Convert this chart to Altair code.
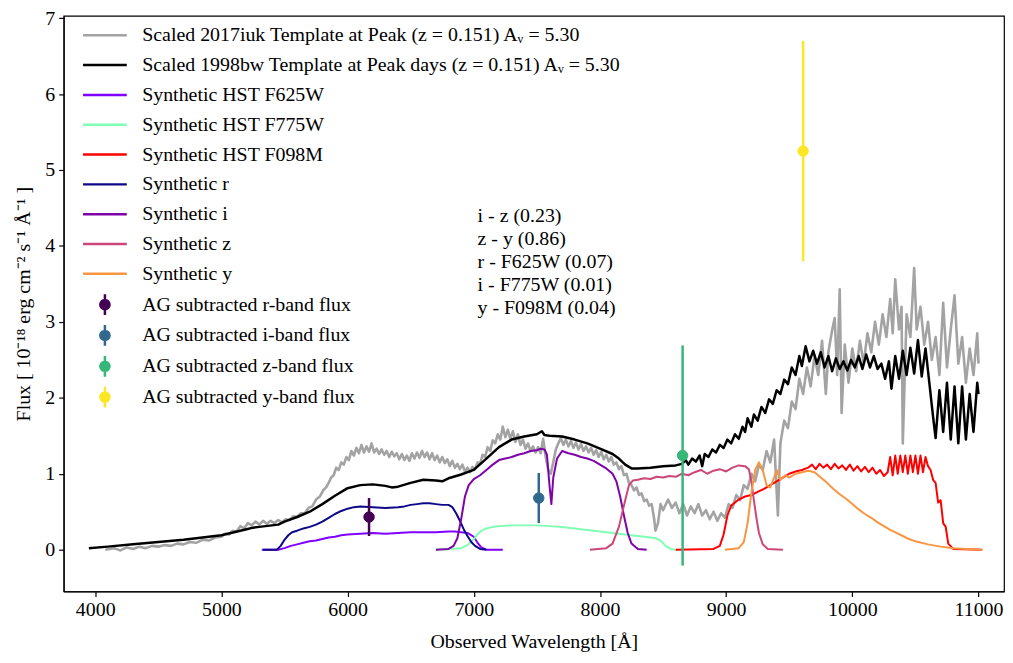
import altair as alt
import pandas as pd

# ---------------- data ----------------
line_names = [
    "Scaled 2017iuk Template at Peak (z = 0.151) Aᵥ = 5.30",
    "Scaled 1998bw Template at Peak days (z = 0.151) Aᵥ = 5.30",
    "Synthetic HST F625W",
    "Synthetic HST F775W",
    "Synthetic HST F098M",
    "Synthetic r",
    "Synthetic i",
    "Synthetic z",
    "Synthetic y",
]
line_colors = ["#a3a3a3", "#000000", "#8000ff", "#80ffb4", "#ff0000",
               "#0d0887", "#7e03a8", "#cc4778", "#f89540"]

# 2017iuk template (grey)
iuk_wl = [4080, 4150, 4200, 4250, 4300, 4350, 4400, 4450, 4500, 4550, 4600, 4650, 4700, 4750,
          4800, 4850, 4900, 4950,
          5000, 5030, 5060, 5090, 5120, 5150, 5180, 5210, 5240, 5270, 5300, 5330, 5360, 5390,
          5420, 5450, 5480, 5510, 5540, 5570, 5600, 5630, 5660, 5690, 5720, 5750, 5780, 5810,
          5830,
          5850, 5870, 5890, 5910, 5930, 5950, 5970, 5990, 6010, 6030, 6050, 6070, 6090, 6110,
          6130, 6150, 6170, 6190, 6210, 6230, 6250, 6270, 6290, 6310, 6330, 6350, 6370, 6390,
          6410, 6430, 6450, 6470, 6490, 6510, 6530, 6550, 6570, 6590, 6610, 6630, 6650, 6670,
          6690, 6710, 6730, 6750, 6770, 6790, 6810, 6830, 6850, 6870, 6890, 6910, 6930, 6950,
          6970, 6990, 7010, 7030, 7050, 7070, 7090, 7110, 7130, 7150, 7170, 7190, 7210, 7230,
          7250, 7270, 7290, 7310, 7330, 7350, 7370, 7390, 7410, 7430, 7450, 7470, 7490, 7510,
          7530, 7550, 7570, 7590, 7610, 7630, 7650, 7670, 7690, 7710, 7730, 7750, 7770, 7790,
          7810, 7830, 7850, 7870, 7890, 7910, 7930, 7950, 7970, 7990, 8010, 8030, 8050, 8070,
          8090, 8110, 8130, 8150, 8170, 8190, 8210, 8230, 8250, 8270, 8290, 8310, 8330, 8350,
          8370, 8390, 8410, 8430,
          8440, 8460, 8480, 8500, 8540,
          8570, 8600, 8630, 8660, 8690, 8720, 8750, 8780, 8810, 8840, 8870, 8900, 8930, 8960,
          8990, 9020, 9050, 9080, 9110, 9140, 9170, 9200, 9230, 9260, 9290, 9320, 9350, 9380,
          9410, 9430, 9460, 9490, 9520, 9550, 9580, 9610, 9640, 9670, 9700, 9730, 9760, 9790,
          9810, 9840, 9860, 9880, 9900, 9915, 9940, 9970, 10000, 10030, 10060, 10090, 10120,
          10150, 10180, 10210, 10240, 10270, 10300, 10320, 10340, 10370, 10390, 10400, 10430,
          10460, 10490, 10510, 10540, 10570, 10600, 10630, 10660, 10690, 10720, 10750, 10780,
          10810, 10840, 10870, 10900, 10930, 10960, 10990, 11000]
iuk_fx = [0.00, 0.02, -0.01, 0.03, 0.01, 0.04, 0.02, 0.05, 0.04, 0.06, 0.05, 0.08, 0.07, 0.10,
          0.09, 0.13, 0.12, 0.16,
          0.17, 0.21, 0.20, 0.25, 0.24, 0.31, 0.28, 0.35, 0.32, 0.37, 0.33, 0.38, 0.34, 0.38,
          0.35, 0.39, 0.36, 0.40, 0.39, 0.44, 0.43, 0.48, 0.48, 0.55, 0.57, 0.66, 0.70, 0.79,
          0.82,
          0.88, 0.95, 0.98, 1.08, 1.05, 1.15, 1.12, 1.22, 1.18, 1.30, 1.24, 1.34, 1.27, 1.38,
          1.28, 1.36, 1.29, 1.40, 1.28, 1.33, 1.26, 1.32, 1.25, 1.30, 1.22, 1.29, 1.23, 1.27,
          1.19, 1.26, 1.18, 1.24, 1.17, 1.27, 1.20, 1.28, 1.21, 1.30, 1.22, 1.28, 1.19, 1.27,
          1.18, 1.24, 1.15, 1.22, 1.14, 1.19, 1.10, 1.17, 1.08, 1.13, 1.06, 1.12, 1.03, 1.08,
          1.02, 1.09, 1.06, 1.15, 1.13, 1.25, 1.22, 1.35, 1.30, 1.44, 1.40, 1.52, 1.45, 1.62,
          1.48, 1.58, 1.46, 1.56, 1.42, 1.52, 1.38, 1.45, 1.33, 1.40, 1.30, 1.36, 1.28, 1.35,
          1.27, 1.46, 1.22, 1.05, 1.00, 1.15, 1.32, 1.40, 1.47, 1.38, 1.45, 1.36, 1.43, 1.34,
          1.41, 1.32, 1.39, 1.30, 1.36, 1.28, 1.34, 1.25, 1.31, 1.22, 1.29, 1.19, 1.25, 1.16,
          1.22, 1.12, 1.15, 1.06, 1.10, 0.98, 1.00, 0.88, 0.85, 0.78, 0.82, 0.72, 0.74, 0.64,
          0.66, 0.58, 0.60, 0.40,
          0.25, 0.35, 0.60, 0.52, 0.66,
          0.55, 0.62, 0.48, 0.60, 0.45, 0.57, 0.48, 0.60, 0.45, 0.52, 0.40, 0.50, 0.38, 0.48,
          0.42, 0.60, 0.55, 0.72, 0.65, 0.85, 0.80, 1.00, 0.90, 1.12, 1.05, 1.30, 1.15, 1.45,
          0.45, 1.40, 1.70, 1.60, 1.95, 1.85, 2.25, 2.05, 2.40, 2.15, 2.55, 2.30, 2.75, 2.05,
          2.60, 2.89, 3.05, 2.30, 3.43, 1.80, 2.70, 2.20, 2.65, 2.35, 2.75, 2.45, 2.85,
          2.60, 3.00, 2.70, 3.10, 2.80, 3.30, 2.85, 3.56, 2.90, 3.20, 1.40, 3.10,
          2.80, 3.71, 2.90, 3.20, 2.70, 3.00, 2.50, 2.80, 2.30, 3.25, 2.40, 2.90,
          3.35, 2.45, 2.80, 2.20, 2.65, 2.30, 2.85, 2.45]

# 1998bw template (black)
bw_wl = [3950, 4100, 4300, 4500, 4700, 4900, 5000, 5100, 5200, 5250, 5300, 5400, 5450, 5500,
         5600, 5700, 5800, 5900, 6000, 6100, 6200, 6300, 6350, 6400, 6500, 6600, 6700, 6750,
         6800, 6900, 7000, 7100, 7200, 7300, 7400, 7500, 7540, 7560, 7600, 7700, 7800, 7900,
         8000, 8100, 8150, 8200, 8250, 8300, 8400, 8500, 8600, 8650, 8680, 8700, 8730, 8760,
         8790, 8810, 8830, 8860, 8890, 8920, 8950, 8980, 9010, 9040, 9070, 9100, 9130, 9150,
         9170, 9200, 9220, 9250, 9280, 9310, 9340, 9370, 9400, 9430, 9460, 9490, 9520, 9550,
         9580, 9600, 9630, 9660, 9690, 9720, 9750, 9780, 9810, 9840, 9870, 9900, 9930, 9960,
         9990, 10020, 10050, 10080, 10110, 10140, 10170, 10200, 10230, 10260, 10290, 10310,
         10340, 10370, 10400, 10430, 10460, 10490, 10520, 10550, 10580, 10610, 10640, 10660,
         10690, 10720, 10750, 10780, 10810, 10840, 10870, 10900, 10930, 10960, 10990, 11000]
bw_fx = [0.02, 0.04, 0.07, 0.10, 0.13, 0.17, 0.19, 0.23, 0.27, 0.29, 0.30, 0.32, 0.33, 0.37,
         0.43, 0.50, 0.60, 0.71, 0.81, 0.85, 0.86, 0.84, 0.82, 0.83, 0.88, 0.92, 0.91, 0.90,
         0.94, 0.99, 1.05, 1.20, 1.35, 1.45, 1.49, 1.52, 1.56, 1.51, 1.50, 1.49, 1.45, 1.40,
         1.33, 1.26, 1.20, 1.12, 1.07, 1.07, 1.08, 1.10, 1.11, 1.13, 1.18, 1.12, 1.20, 1.16,
         1.24, 1.10, 1.26, 1.22, 1.32, 1.28, 1.38, 1.34, 1.45, 1.40, 1.52, 1.46, 1.62, 1.55,
         1.73, 1.62, 1.78, 1.70, 1.88, 1.80, 1.98, 1.92, 2.10, 2.05, 2.24, 2.18, 2.40, 2.30,
         2.55, 2.42, 2.68, 2.48, 2.62, 2.45, 2.60, 2.40, 2.55, 2.35, 2.52, 2.38, 2.48, 2.36,
         2.50, 2.40, 2.55, 2.38, 2.57, 2.40, 2.55, 2.38, 2.45, 2.25, 2.48, 2.12,
         2.55, 2.25, 2.62, 2.30, 2.66, 2.32, 2.76, 2.28, 2.65, 2.20, 1.75, 1.47,
         2.10, 1.55, 2.20, 1.45, 2.15, 1.40, 2.15, 1.45, 2.05, 1.55, 2.20, 2.05]

f625_wl = [5320, 5450, 5500, 5550, 5600, 5650, 5700, 5750, 5800, 5850, 5900, 5950, 6000, 6100,
           6200, 6300, 6400, 6500, 6600, 6700, 6800, 6850, 6900, 6950, 7000, 7030, 7060, 7100, 7230]
f625_fx = [0, 0, 0.02, 0.05, 0.07, 0.09, 0.11, 0.12, 0.14, 0.16, 0.17, 0.19, 0.20, 0.21,
           0.22, 0.21, 0.22, 0.23, 0.23, 0.23, 0.24, 0.24, 0.23, 0.22, 0.17, 0.09, 0.03, 0.0, 0.0]

f775_wl = [6700, 6900, 6950, 7000, 7030, 7060, 7100, 7150, 7200, 7300, 7400, 7500, 7600, 7700,
           7800, 7900, 8000, 8100, 8200, 8300, 8400, 8440, 8480, 8520, 8560, 8600]
f775_fx = [0, 0.02, 0.06, 0.14, 0.20, 0.25, 0.28, 0.30, 0.31, 0.32, 0.32, 0.32, 0.31, 0.30,
           0.28, 0.26, 0.24, 0.22, 0.20, 0.18, 0.16, 0.15, 0.12, 0.05, 0.01, 0]

f098_wl = [8600, 8900, 8950, 8980, 9010, 9040, 9070, 9100, 9150, 9200, 9250, 9300, 9350, 9400,
           9450, 9500, 9550, 9600, 9650, 9680, 9710, 9740, 9770, 9800, 9830, 9860, 9890, 9920,
           9950, 9980, 10010, 10040, 10070, 10100, 10130, 10160, 10190, 10220, 10250, 10280,
           10300, 10320, 10340, 10360, 10380, 10400, 10420, 10440, 10460, 10480, 10500, 10520,
           10540, 10560, 10580, 10600, 10620, 10640, 10660, 10680, 10700, 10720, 10740, 10760,
           10800, 11030]
f098_fx = [0, 0.01, 0.05, 0.20, 0.45, 0.58, 0.62, 0.66, 0.70, 0.72, 0.76, 0.80, 0.85, 0.90,
           0.95, 1.00, 1.03, 1.05, 1.08, 1.12, 1.06, 1.13, 1.08, 1.12, 1.06, 1.13, 1.07, 1.11,
           1.05, 1.12, 1.04, 1.10, 1.03, 1.09, 1.02, 1.08, 1.00, 1.05, 0.97, 1.02,
           1.22, 0.98, 1.24, 1.00, 1.24, 1.02, 1.24, 1.00, 1.24, 1.02, 1.24, 1.00,
           1.24, 1.02, 1.22, 1.10, 1.05, 0.92, 0.88, 0.62, 0.65, 0.35, 0.30, 0.08,
           0.01, 0]

r_wl = [5330, 5440, 5470, 5500, 5530, 5560, 5600, 5650, 5700, 5750, 5800, 5850, 5900, 5950,
        6000, 6050, 6100, 6200, 6300, 6400, 6450, 6500, 6550, 6600, 6650, 6700, 6750, 6800,
        6830, 6860, 6890, 6920, 6950, 6980, 7010, 7050, 7100]
r_fx = [0, 0, 0.05, 0.13, 0.19, 0.23, 0.25, 0.28, 0.30, 0.33, 0.37, 0.42, 0.47, 0.51,
        0.54, 0.56, 0.57, 0.56, 0.55, 0.56, 0.57, 0.59, 0.60, 0.61, 0.61, 0.60, 0.59, 0.59,
        0.56, 0.48, 0.38, 0.27, 0.18, 0.10, 0.05, 0.01, 0]

i_wl = [6700, 6800, 6840, 6870, 6900, 6930, 6960, 7000, 7050, 7100, 7150, 7200, 7250, 7300,
        7350, 7400, 7450, 7500, 7530, 7560, 7580, 7600, 7615, 7630, 7660, 7700, 7750, 7800,
        7850, 7900, 7950, 8000, 8050, 8100, 8130, 8160, 8190, 8220, 8250, 8300, 8370]
i_fx = [0, 0.01, 0.05, 0.15, 0.40, 0.70, 0.85, 0.93, 0.98, 1.05, 1.12, 1.18, 1.20, 1.22,
        1.25, 1.27, 1.30, 1.31, 1.33, 1.32, 1.25, 0.85, 0.60, 0.95, 1.20, 1.30, 1.27, 1.25,
        1.22, 1.20, 1.17, 1.12, 1.07, 1.00, 0.90, 0.70, 0.45, 0.22, 0.08, 0.01, 0]

z_wl = [7920, 8050, 8100, 8150, 8200, 8230, 8260, 8300, 8350, 8400, 8450, 8500, 8550, 8600,
        8650, 8700, 8750, 8800, 8850, 8900, 8950, 9000, 9050, 9100, 9150, 9180, 9200, 9220,
        9240, 9260, 9290, 9330, 9450]
z_fx = [0, 0.02, 0.08, 0.30, 0.65, 0.85, 0.91, 0.92, 0.94, 0.93, 0.96, 0.95, 0.97, 0.96,
        1.00, 0.98, 1.02, 1.05, 1.00, 1.04, 1.06, 1.03, 1.08, 1.11, 1.10, 1.06, 0.90, 0.65,
        0.42, 0.22, 0.07, 0.01, 0]

y_wl = [8990, 9100, 9140, 9170, 9200, 9230, 9260, 9290, 9320, 9350, 9380, 9400, 9430, 9470,
        9500, 9550, 9600, 9650, 9700, 9750, 9800, 9850, 9900, 9950, 10000, 10050, 10100,
        10150, 10200, 10250, 10300, 10350, 10400, 10450, 10500, 10600, 10700, 10800, 10900, 11030]
y_fx = [0, 0.02, 0.10, 0.35, 0.75, 1.05, 1.15, 1.05, 0.85, 0.82, 0.95, 1.05, 0.92, 0.98,
        0.95, 1.00, 1.02, 1.04, 1.02, 0.95, 0.88, 0.80, 0.73, 0.67, 0.60, 0.53, 0.47,
        0.42, 0.36, 0.31, 0.26, 0.22, 0.18, 0.14, 0.11, 0.07, 0.04, 0.02, 0.01, 0]

pt_names = ["AG subtracted r-band flux", "AG subtracted i-band flux",
            "AG subtracted z-band flux", "AG subtracted y-band flux"]
pt_colors = ["#440154", "#31688e", "#35b779", "#fde725"]
pt_wl = [6170, 7515, 8655, 9610]
pt_fx = [0.43, 0.68, 1.24, 5.25]
pt_err = [0.25, 0.33, 1.45, 1.45]

note_text = "i - z (0.23)\nz - y (0.86)\nr - F625W (0.07)\ni - F775W (0.01)\ny - F098M (0.04)"
note_wl = 7030
note_fx = 4.52

# ---------------- chart ----------------
FONT = "Liberation Serif"

series = [
    (iuk_wl, iuk_fx, 2.6),
    (bw_wl, bw_fx, 2.5),
    (f625_wl, f625_fx, 2.0),
    (f775_wl, f775_fx, 2.0),
    (f098_wl, f098_fx, 2.0),
    (r_wl, r_fx, 2.0),
    (i_wl, i_fx, 2.0),
    (z_wl, z_fx, 2.0),
    (y_wl, y_fx, 2.0),
]

xscale = alt.Scale(domain=[3750, 11202], nice=False, zero=False)
yscale = alt.Scale(domain=[-0.55, 7.03], nice=False, zero=False)
xaxis = alt.Axis(values=list(range(4000, 11001, 1000)), title="Observed Wavelength [Å]",
                 format="d", titlePadding=12, labelPadding=3)
yaxis = alt.Axis(values=list(range(0, 8)), title="Flux  [ 10⁻¹⁸ erg cm⁻² s⁻¹ Å⁻¹ ]",
                 titlePadding=11, labelPadding=4)

cscale = alt.Scale(domain=line_names, range=line_colors)
line_legend = alt.Legend(
    orient="none", legendX=29, legendY=7, title=None, padding=0,
    symbolType="M -2 0 L 2 0", symbolSize=484, symbolStrokeWidth=2.5,
    labelFont=FONT, labelFontSize=20, labelColor="black", labelOffset=25,
    labelFontWeight="normal",
    rowPadding=7, labelLimit=800, symbolOpacity=1,
)
pscale = alt.Scale(domain=pt_names, range=pt_colors)
pt_legend = alt.Legend(
    orient="none", legendX=29, legendY=278, title=None, padding=0,
    symbolType="M 0 -0.95 L 0 0.95 M -0.42 0 A 0.42 0.42 0 1 1 0.42 0 A 0.42 0.42 0 1 1 -0.42 0",
    symbolSize=484, symbolStrokeWidth=2.5,
    labelFont=FONT, labelFontSize=20, labelColor="black", labelOffset=25,
    labelFontWeight="normal",
    rowPadding=0, labelLimit=800, symbolOpacity=1,
)

layers = []
for name, (wl, fx, sw) in zip(line_names, series):
    df = pd.DataFrame({"wl": wl, "flux": fx, "series": name})
    layers.append(
        alt.Chart(df).mark_line(strokeWidth=sw, strokeJoin="round").encode(
            x=alt.X("wl:Q", scale=xscale, axis=xaxis),
            y=alt.Y("flux:Q", scale=yscale, axis=yaxis),
            color=alt.Color("series:N", scale=cscale, legend=line_legend),
        )
    )

pdf = pd.DataFrame({"wl": pt_wl, "flux": pt_fx, "series": pt_names})
pdf["lo"] = [f - e for f, e in zip(pt_fx, pt_err)]
pdf["hi"] = [f + e for f, e in zip(pt_fx, pt_err)]

bars = alt.Chart(pdf).mark_rule(strokeWidth=2.5).encode(
    x=alt.X("wl:Q", scale=xscale, axis=xaxis),
    y=alt.Y("lo:Q", scale=yscale, axis=yaxis),
    y2="hi:Q",
    stroke=alt.Stroke("series:N", scale=pscale, legend=pt_legend),
)
pts = alt.Chart(pdf).mark_point(filled=True, size=110, opacity=1, strokeWidth=1).encode(
    x=alt.X("wl:Q", scale=xscale, axis=xaxis),
    y=alt.Y("flux:Q", scale=yscale, axis=yaxis),
    fill=alt.Fill("series:N", scale=pscale, legend=pt_legend),
    stroke=alt.Stroke("series:N", scale=pscale, legend=pt_legend),
)

note = alt.Chart(pd.DataFrame({"wl": [note_wl], "flux": [note_fx], "t": [note_text]})).mark_text(
    align="left", baseline="top", font=FONT, fontSize=20, lineBreak="\n", lineHeight=23,
    color="black",
).encode(
    x=alt.X("wl:Q", scale=xscale, axis=xaxis),
    y=alt.Y("flux:Q", scale=yscale, axis=yaxis),
    text="t:N",
)

chart = alt.layer(*layers, bars, pts, note).properties(
    width=946, height=579,
    autosize=alt.AutoSizeParams(type="none"),
    padding={"left": 56, "top": 6, "right": 1, "bottom": 60},
).configure_view(
    stroke="black", strokeWidth=1.2
).configure_axis(
    grid=False, labelFont=FONT, labelFontSize=20, labelColor="black",
    titleFont=FONT, titleFontSize=20, titleFontWeight="normal", titleColor="black",
    tickColor="black", domainColor="black", tickSize=5, domainWidth=1.2, tickWidth=1.2,
)

chart.save("out.html", embed_options={"renderer": "svg", "actions": False})
